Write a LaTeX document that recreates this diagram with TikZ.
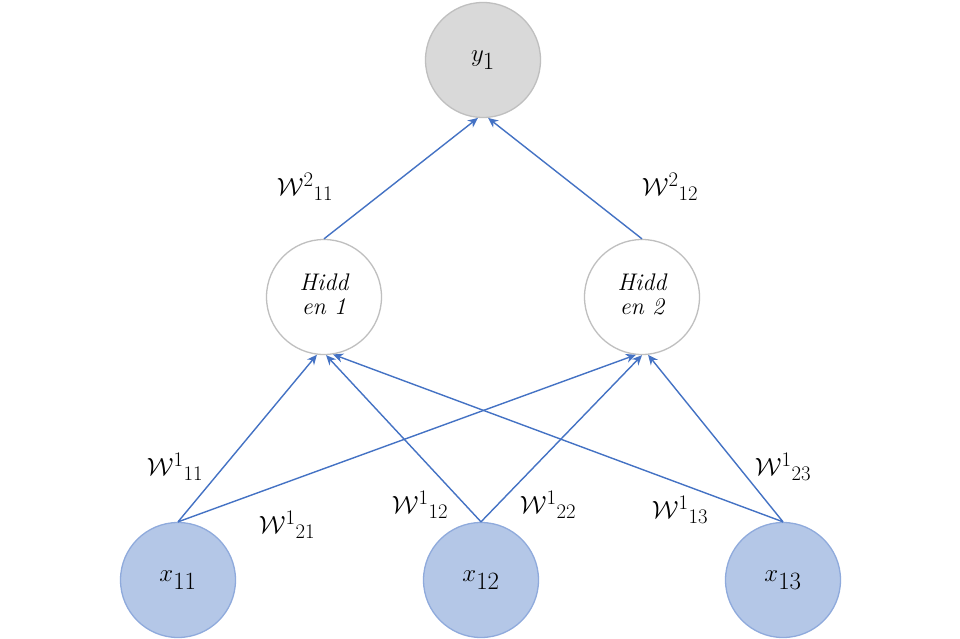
\documentclass[tikz,border=0pt]{standalone}
\usetikzlibrary{arrows.meta}
\definecolor{edgeblue}{HTML}{4472C4}
\definecolor{infill}{HTML}{B4C7E7}
\definecolor{inborder}{HTML}{8FAADC}
\definecolor{outfill}{HTML}{D9D9D9}
\definecolor{grayborder}{HTML}{BFBFBF}
\tikzset{
  neuron/.style={circle, minimum size=115pt, inner sep=0pt, line width=1.3pt},
  innode/.style={neuron, draw=inborder, fill=infill},
  hidnode/.style={neuron, draw=grayborder, fill=white},
  outnode/.style={neuron, draw=grayborder, fill=outfill},
  conn/.style={draw=edgeblue, line width=1.4pt, -{Stealth[length=10pt,width=9pt]}},
  wlabel/.style={font=\fontsize{29}{33}\selectfont, inner sep=0pt}
}
\newcommand{\wt}[2]{$\mathcal{W}^{#1}{}_{#2}$}
\begin{document}
\begin{tikzpicture}[x=1pt,y=-1pt]
\useasboundingbox[fill=white] (0,0) rectangle (960,639);
\node[outnode] (y) at (483,60) {\fontsize{44}{48}\selectfont$y_1$};
\node[hidnode] (h1) at (324,297) {\fontsize{24}{28}\selectfont\itshape\begin{tabular}{c}Hidd\\[-4pt]en 1\end{tabular}};
\node[hidnode] (h2) at (642,297) {\fontsize{24}{28}\selectfont\itshape\begin{tabular}{c}Hidd\\[-4pt]en 2\end{tabular}};
\node[innode] (x1) at (178,580) {\fontsize{42}{46}\selectfont$x_{11}$};
\node[innode] (x2) at (481,580) {\fontsize{42}{46}\selectfont$x_{12}$};
\node[innode] (x3) at (783,580) {\fontsize{42}{46}\selectfont$x_{13}$};

\draw[conn] (x1.north) -- (h1.263);
\draw[conn] (x1.north) -- (h2.264);
\draw[conn] (x2.north) -- (h1.272);
\draw[conn] (x2.north) -- (h2.270);
\draw[conn] (x3.north) -- (h1.279);
\draw[conn] (x3.north) -- (h2.276);
\draw[conn] (h1.north) -- (y.265);
\draw[conn] (h2.north) -- (y.275);

\node[wlabel] (l211) at (305,187) {\wt{2}{11}};
\node[wlabel] (l212) at (670,187) {\wt{2}{12}};
\node[wlabel] (l111) at (175,467) {\wt{1}{11}};
\node[wlabel] (l121) at (287,525) {\wt{1}{21}};
\node[wlabel] (l112) at (420,505) {\wt{1}{12}};
\node[wlabel] (l122) at (548,505) {\wt{1}{22}};
\node[wlabel] (l113) at (680,510) {\wt{1}{13}};
\node[wlabel] (l123) at (783,467) {\wt{1}{23}};
\end{tikzpicture}
\end{document}
